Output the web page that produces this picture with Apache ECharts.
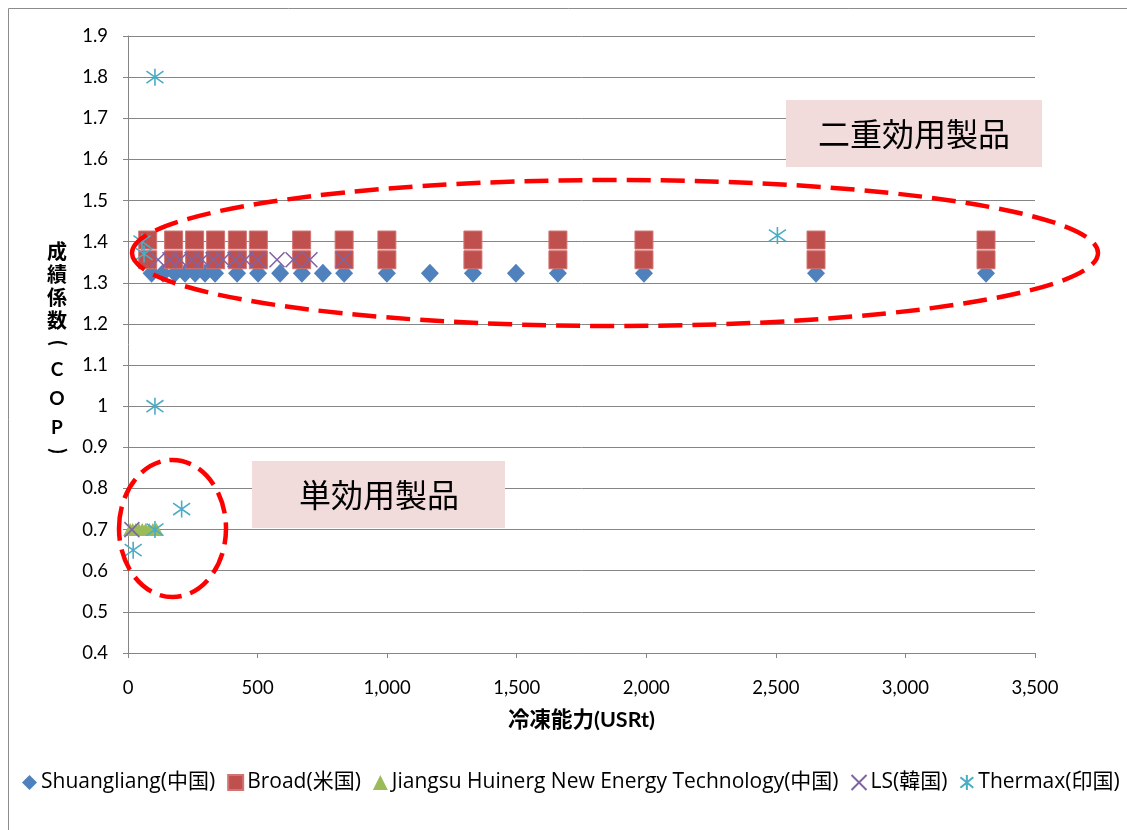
<!DOCTYPE html>
<html>
<head>
<meta charset="utf-8">
<script src="https://cdn.jsdelivr.net/npm/echarts@6/dist/echarts.min.js"></script>
<style>
  html, body { margin: 0; padding: 0; background: #fff; }
  #chart { width: 1127px; height: 830px; }
</style>
</head>
<body>
<div id="chart"></div>
<script>
// Capacity (USRt) vs. COP for absorption chiller makers
var seriesNames = ['Shuangliang(中国)', 'Broad(米国)', 'Jiangsu Huinerg New Energy Technology(中国)', 'LS(韓国)', 'Thermax(印国)'];

var shuangliang = [
  [91, 1.323], [135, 1.323], [181, 1.323], [220, 1.323], [259, 1.323], [297, 1.323], [336, 1.323],
  [421, 1.323], [502, 1.323], [587, 1.323], [671, 1.323], [752, 1.323], [834, 1.323], [999, 1.323],
  [1165, 1.323], [1331, 1.323], [1497, 1.323], [1659, 1.323], [1991, 1.323], [2655, 1.323], [3311, 1.323]
];

var broad = [
  [76, 1.404], [176, 1.404], [257, 1.404], [338, 1.404], [422, 1.404], [503, 1.404], [670, 1.404],
  [834, 1.404], [999, 1.404], [1331, 1.404], [1659, 1.404], [1991, 1.404], [2655, 1.404], [3311, 1.404],
  [76, 1.356], [176, 1.356], [257, 1.356], [338, 1.356], [422, 1.356], [503, 1.356], [670, 1.356],
  [834, 1.356], [999, 1.356], [1331, 1.356], [1659, 1.356], [1991, 1.356], [2655, 1.356], [3311, 1.356]
];

var jiangsu = [
  [8, 0.70], [18, 0.70], [30, 0.70], [42, 0.70], [55, 0.70], [68, 0.70], [82, 0.70], [96, 0.70], [110, 0.70]
];

var ls = [
  [116, 1.356], [162, 1.356], [201, 1.356], [247, 1.356], [286, 1.356], [328, 1.356], [367, 1.356],
  [413, 1.356], [452, 1.356], [502, 1.356], [575, 1.356], [637, 1.356], [702, 1.356], [830, 1.356],
  [15, 0.70]
];

var thermax = [
  [104, 1.80], [104, 1.00], [104, 0.70], [207, 0.75], [20, 0.65], [2506, 1.415], [54, 1.40], [62, 1.37]
];

var xTicks = { min: 0, max: 3500, interval: 500 };
var yTicks = { min: 0.4, max: 1.9, interval: 0.1 };

var FONT = "Lato, 'Noto Sans CJK JP', sans-serif";
var LEGEND_FONT = "'Open Sans', 'Noto Sans CJK JP', sans-serif";
var GRID_GRAY = '#868686';

var crossPath = 'path://M0,0L10,10M10,0L0,10';
var starPath = 'path://M5,0L5,10M0.7,1.5L9.3,8.5M9.3,1.5L0.7,8.5';

var chart = echarts.init(document.getElementById('chart'), null, { renderer: 'canvas' });

var titleFont = "bold 20px Lato, 'Noto Sans CJK JP', sans-serif";
var titleFontLatin = "bold 19px Lato, 'Noto Sans CJK JP', sans-serif";

var option = {
  animation: false,
  backgroundColor: '#fff',
  textStyle: { fontFamily: FONT },
  grid: { left: 128, right: 92, top: 36, bottom: 177 },
  xAxis: {
    type: 'value',
    min: xTicks.min, max: xTicks.max, interval: xTicks.interval,
    name: '冷凍能力(USRt)',
    nameLocation: 'middle',
    nameGap: 56,
    nameTextStyle: { fontFamily: FONT, fontSize: 21.5, fontWeight: 'bold', color: '#000' },
    axisLine: { lineStyle: { color: GRID_GRAY, width: 1 } },
    axisTick: { show: true, length: 5, inside: false, lineStyle: { color: GRID_GRAY } },
    axisLabel: {
      margin: 26, fontSize: 18.5, color: '#000', fontFamily: FONT,
      formatter: function (v) { return v.toLocaleString('en-US'); }
    },
    splitLine: { show: false }
  },
  yAxis: {
    type: 'value',
    min: yTicks.min, max: yTicks.max, interval: yTicks.interval,
    axisLine: { show: true, lineStyle: { color: GRID_GRAY, width: 1 } },
    axisTick: { show: true, length: 5, lineStyle: { color: GRID_GRAY } },
    axisLabel: {
      margin: 20, fontSize: 18.5, color: '#000', fontFamily: FONT,
      formatter: function (v) { return String(Math.round(v * 10) / 10); }
    },
    splitLine: { show: true, lineStyle: { color: GRID_GRAY, width: 1 } }
  },
  legend: {
    top: 772,
    left: 22,
    width: 1104,
    padding: 0,
    itemWidth: 15,
    itemHeight: 15,
    itemGap: 12,
    textStyle: { fontSize: 21, color: '#000', fontFamily: LEGEND_FONT, padding: [0, 0, 0, -1] },
    data: seriesNames
  },
  series: [
    {
      name: seriesNames[0], type: 'scatter', data: shuangliang,
      symbol: 'diamond', symbolSize: [18, 19],
      itemStyle: { color: '#4f81bd', opacity: 1 }
    },
    {
      name: seriesNames[1], type: 'scatter', data: broad,
      symbol: 'rect', symbolSize: 18,
      itemStyle: { color: '#c0504d', borderColor: '#d07573', borderWidth: 1, opacity: 1 }
    },
    {
      name: seriesNames[2], type: 'scatter', data: jiangsu,
      symbol: 'triangle', symbolSize: [14, 13],
      itemStyle: { color: '#9bbb59', opacity: 1 }
    },
    {
      name: seriesNames[3], type: 'scatter', data: ls,
      symbol: crossPath, symbolSize: 15,
      itemStyle: { color: 'rgba(0,0,0,0)', borderColor: '#8064a2', borderWidth: 1.6, opacity: 1 }
    },
    {
      name: seriesNames[4], type: 'scatter', data: thermax,
      symbol: starPath, symbolSize: 17,
      itemStyle: { color: 'rgba(0,0,0,0)', borderColor: '#4bacc6', borderWidth: 1.6, opacity: 1 }
    }
  ],
  graphic: [
    // outer frame
    {
      type: 'rect', silent: true, z: 0,
      shape: { x: 8.5, y: 8.5, width: 1130, height: 830 },
      style: { fill: 'none', stroke: '#8c8c8c', lineWidth: 1 }
    },
    // double-effect group
    {
      type: 'ellipse', silent: true, z: 100,
      shape: { cx: 615, cy: 253, rx: 483, ry: 73 },
      style: { fill: 'none', stroke: '#ff0000', lineWidth: 4.5, lineDash: [24, 10] }
    },
    // single-effect group
    {
      type: 'ellipse', silent: true, z: 100,
      shape: { cx: 172.5, cy: 528.5, rx: 53.5, ry: 68.5 },
      style: { fill: 'none', stroke: '#ff0000', lineWidth: 4.5, lineDash: [22, 9] }
    },
    {
      type: 'rect', silent: true, z: 90,
      shape: { x: 786, y: 100, width: 256, height: 67 },
      style: { fill: '#f2dcdb' }
    },
    {
      type: 'text', silent: true, z: 101,
      x: 914, y: 134,
      style: {
        text: '二重効用製品', fill: '#000', font: "32px 'Noto Sans CJK JP'",
        textAlign: 'center', textVerticalAlign: 'middle'
      }
    },
    {
      type: 'rect', silent: true, z: 90,
      shape: { x: 252, y: 461, width: 253, height: 67 },
      style: { fill: '#f2dcdb' }
    },
    {
      type: 'text', silent: true, z: 101,
      x: 379, y: 495,
      style: {
        text: '単効用製品', fill: '#000', font: "32px 'Noto Sans CJK JP'",
        textAlign: 'center', textVerticalAlign: 'middle'
      }
    },
    // vertical y-axis title: 成績係数(COP)
    {
      type: 'text', silent: true, z: 101,
      x: 57, y: 287,
      style: {
        text: '成\n績\n係\n数', fill: '#000', font: titleFont,
        textAlign: 'center', textVerticalAlign: 'middle', lineHeight: 23
      }
    },
    {
      type: 'text', silent: true, z: 101,
      x: 57, y: 343, rotation: -Math.PI / 2,
      style: {
        text: '(', fill: '#000', font: titleFont,
        textAlign: 'center', textVerticalAlign: 'middle'
      }
    },
    {
      type: 'text', silent: true, z: 101,
      x: 57, y: 399,
      style: {
        text: 'C\nO\nP', fill: '#000', font: titleFontLatin,
        textAlign: 'center', textVerticalAlign: 'middle', lineHeight: 29
      }
    },
    {
      type: 'text', silent: true, z: 101,
      x: 57, y: 451, rotation: -Math.PI / 2,
      style: {
        text: ')', fill: '#000', font: titleFont,
        textAlign: 'center', textVerticalAlign: 'middle'
      }
    }
  ]
};

chart.setOption(option);
</script>
</body>
</html>
